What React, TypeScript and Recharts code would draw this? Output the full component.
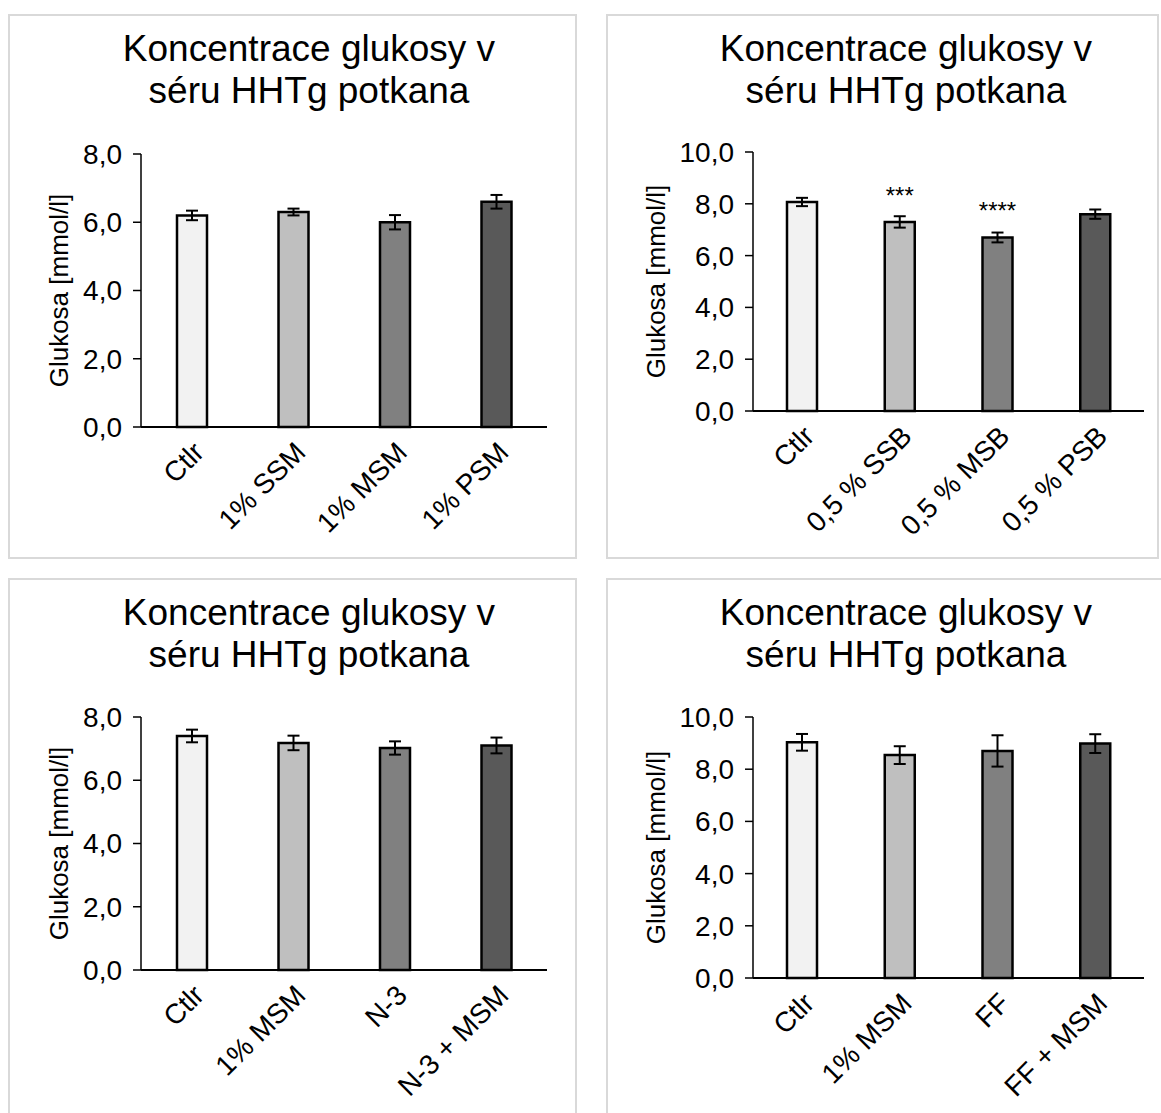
import React from 'react';
import { BarChart, Bar, XAxis, YAxis, Cell, ErrorBar, LabelList } from 'recharts';

// four experiments, glucose in serum, mean ± SEM
const groupsA = ['Ctlr', '1% SSM', '1% MSM', '1% PSM'];
const meansA = [6.2, 6.3, 6.0, 6.6];
const errorsA = [0.14, 0.1, 0.21, 0.2];

const groupsB = ['Ctlr', '0,5 % SSB', '0,5 % MSB', '0,5 % PSB'];
const meansB = [8.07, 7.3, 6.7, 7.6];
const errorsB = [0.16, 0.22, 0.19, 0.18];
const starsB = ['', '***', '****', ''];

const groupsC = ['Ctlr', '1% MSM', 'N-3', 'N-3 + MSM'];
const meansC = [7.4, 7.18, 7.02, 7.1];
const errorsC = [0.2, 0.23, 0.21, 0.25];

const groupsD = ['Ctlr', '1% MSM', 'FF', 'FF + MSM'];
const meansD = [9.03, 8.54, 8.7, 8.98];
const errorsD = [0.32, 0.34, 0.6, 0.36];

const ticks8 = [0, 2, 4, 6, 8];
const ticks10 = [0, 2, 4, 6, 8, 10];

const barFills = ['#f2f2f2', '#bfbfbf', '#808080', '#595959'];

const TITLE_1 = 'Koncentrace glukosy v';
const TITLE_2 = 'séru HHTg potkana';
const Y_LABEL = 'Glukosa [mmol/l]';

const CHART_W = 569;
const CHART_H = 545;
const AXIS_FONT = 28;

const fmt = (v: number) => v.toFixed(1).replace('.', ',');

const SlantTick = (props: any) => {
  const { x, y, payload } = props;
  return (
    <g transform={`translate(${x + 7},${y + 20})`}>
      <text textAnchor="end" transform="rotate(-45)" dy="0.35em" fontSize={AXIS_FONT} fill="#000">
        {payload.value}
      </text>
    </g>
  );
};

const AxisTitle = (props: any) => {
  const { viewBox, offsetX } = props;
  const cx = viewBox.x + offsetX;
  const cy = viewBox.y + viewBox.height / 2;
  return (
    <text x={cx} y={cy} transform={`rotate(-90, ${cx}, ${cy})`} textAnchor="middle" dy="0.35em" fontSize={26} fill="#000">
      {Y_LABEL}
    </text>
  );
};

const StarLabel = (props: any) => {
  const { x, y, width, value } = props;
  if (!value) return null;
  return (
    <text x={x + width / 2} y={y - 18} textAnchor="middle" fontSize={24} fill="#000">
      {value}
    </text>
  );
};

interface PanelProps {
  left: number;
  top: number;
  boxWidth: number;
  titleX: number;
  groups: string[];
  means: number[];
  errors: number[];
  stars?: string[];
  ticks: number[];
  axisWidth: number;
  labelX: number;
  marginTop: number;
  marginRight: number;
  xAxisHeight: number;
}

const Panel = (p: PanelProps) => {
  const data = p.groups.map((g, i) => ({
    group: g,
    mean: p.means[i],
    err: p.errors[i],
    star: p.stars ? p.stars[i] : '',
  }));
  const yMax = p.ticks[p.ticks.length - 1];

  return (
    <>
      <div
        style={{
          position: 'absolute',
          left: p.left,
          top: p.top,
          width: p.boxWidth,
          height: CHART_H,
          border: '2px solid #d9d9d9',
          boxSizing: 'border-box',
        }}
      />
      <div
        style={{
          position: 'absolute',
          left: p.titleX - 300,
          top: p.top + 14,
          width: 600,
          textAlign: 'center',
          fontSize: 37,
          lineHeight: '42px',
          color: '#000',
        }}
      >
        {TITLE_1}
        <br />
        {TITLE_2}
      </div>
      <div style={{ position: 'absolute', left: p.left, top: p.top }}>
        <BarChart
          width={CHART_W}
          height={CHART_H}
          data={data}
          margin={{ top: p.marginTop, right: p.marginRight, bottom: 0, left: 0 }}
        >
          <XAxis
            dataKey="group"
            height={p.xAxisHeight}
            interval={0}
            tickLine={false}
            tickSize={0}
            tickMargin={0}
            axisLine={{ stroke: '#000', strokeWidth: 2 }}
            tick={<SlantTick />}
          />
          <YAxis
            width={p.axisWidth}
            domain={[0, yMax]}
            ticks={p.ticks}
            interval={0}
            tickFormatter={fmt}
            tickSize={8}
            tickMargin={11}
            axisLine={{ stroke: '#000', strokeWidth: 1.5 }}
            tickLine={{ stroke: '#000', strokeWidth: 1.5 }}
            tick={{ fill: '#000', fontSize: AXIS_FONT }}
            label={<AxisTitle offsetX={p.labelX} />}
          />
          <Bar dataKey="mean" barSize={30} stroke="#000" strokeWidth={2.5} isAnimationActive={false}>
            {data.map((d, i) => (
              <Cell key={d.group} fill={barFills[i]} />
            ))}
            <ErrorBar dataKey="err" width={6} stroke="#000" strokeWidth={2} />
            <LabelList dataKey="star" content={<StarLabel />} />
          </Bar>
        </BarChart>
      </div>
    </>
  );
};

export default function App() {
  return (
    <div
      style={{
        position: 'absolute',
        left: 0,
        top: 0,
        width: 1161,
        height: 1113,
        overflow: 'hidden',
        background: '#fff',
        fontFamily: '"Liberation Sans", Arial, sans-serif',
      }}
    >
      <Panel
        left={8}
        top={14}
        boxWidth={569}
        titleX={309}
        groups={groupsA}
        means={meansA}
        errors={errorsA}
        ticks={ticks8}
        axisWidth={133}
        labelX={51}
        marginTop={140}
        marginRight={30}
        xAxisHeight={132}
      />
      <Panel
        left={606}
        top={14}
        boxWidth={553}
        titleX={906}
        groups={groupsB}
        means={meansB}
        errors={errorsB}
        stars={starsB}
        ticks={ticks10}
        axisWidth={147}
        labelX={50}
        marginTop={138}
        marginRight={31}
        xAxisHeight={148}
      />
      <Panel
        left={8}
        top={578}
        boxWidth={569}
        titleX={309}
        groups={groupsC}
        means={meansC}
        errors={errorsC}
        ticks={ticks8}
        axisWidth={133}
        labelX={51}
        marginTop={139}
        marginRight={30}
        xAxisHeight={153}
      />
      <Panel
        left={606}
        top={578}
        boxWidth={569}
        titleX={906}
        groups={groupsD}
        means={meansD}
        errors={errorsD}
        ticks={ticks10}
        axisWidth={147}
        labelX={50}
        marginTop={139}
        marginRight={31}
        xAxisHeight={145}
      />
    </div>
  );
}
